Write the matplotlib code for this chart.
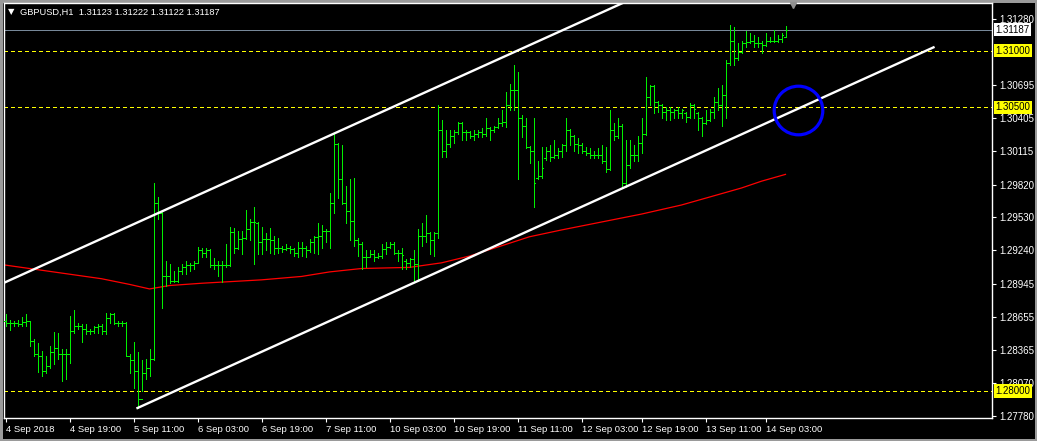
import matplotlib
matplotlib.use("Agg")
import matplotlib.pyplot as plt
from matplotlib.collections import LineCollection

plt.rcParams['font.family'] = ['Liberation Sans', 'DejaVu Sans']

# GBPUSD H1 bars, 4 Sep 2018 03:00 -> 14 Sep 2018 08:00
opens = [
    1.2862, 1.2860, 1.2860, 1.2860, 1.2859, 1.2861, 1.2862, 1.2844, 1.2833, 1.2831,
    1.2818, 1.2822, 1.2834, 1.2838, 1.2833, 1.2833, 1.2833, 1.2853, 1.2857, 1.2857,
    1.2855, 1.2853, 1.2853, 1.2856, 1.2857, 1.2853, 1.2864, 1.2868, 1.2860, 1.2860,
    1.2860, 1.2831, 1.2827, 1.2818, 1.2793, 1.2816, 1.2820, 1.2828, 1.2966, 1.2957,
    1.2901, 1.2901, 1.2897, 1.2897, 1.2906, 1.2909, 1.2911, 1.2911, 1.2913, 1.2924,
    1.2922, 1.2924, 1.2911, 1.2911, 1.2911, 1.2911, 1.2911, 1.2940, 1.2926, 1.2934,
    1.2935, 1.2943, 1.2949, 1.2948, 1.2931, 1.2934, 1.2934, 1.2933, 1.2926, 1.2926,
    1.2925, 1.2926, 1.2925, 1.2922, 1.2926, 1.2926, 1.2924, 1.2931, 1.2936, 1.2937,
    1.2941, 1.2941, 1.2966, 1.3018, 1.2987, 1.2966, 1.2959, 1.2950, 1.2933, 1.2930,
    1.2918, 1.2918, 1.2921, 1.2918, 1.2919, 1.2925, 1.2927, 1.2930, 1.2922, 1.2922,
    1.2915, 1.2913, 1.2916, 1.2912, 1.2937, 1.2937, 1.2939, 1.2933, 1.2939, 1.3030,
    1.3012, 1.3018, 1.3025, 1.3028, 1.3036, 1.3028, 1.3028, 1.3025, 1.3027, 1.3028,
    1.3027, 1.3032, 1.3030, 1.3033, 1.3036, 1.3037, 1.3052, 1.3065, 1.3065, 1.3041,
    1.3034, 1.3015, 1.3012, 1.2988, 1.2990, 1.3005, 1.3012, 1.3006, 1.3008, 1.3012,
    1.3017, 1.3030, 1.3025, 1.3018, 1.3017, 1.3012, 1.3010, 1.3008, 1.3008, 1.3008,
    1.3003, 1.2996, 1.3030, 1.3025, 1.3034, 1.2983, 1.2999, 1.3008, 1.3008, 1.3019,
    1.3027, 1.3059, 1.3069, 1.3055, 1.3052, 1.3046, 1.3048, 1.3046, 1.3048, 1.3045,
    1.3045, 1.3042, 1.3052, 1.3045, 1.3041, 1.3036, 1.3039, 1.3046, 1.3055, 1.3052,
    1.3061, 1.3089, 1.3109, 1.3094, 1.3099, 1.3107, 1.3108, 1.3109, 1.3107, 1.3107,
    1.3105, 1.3109, 1.3109, 1.3109, 1.3110, 1.31123,
]
highs = [
    1.2868, 1.2863, 1.2862, 1.2863, 1.2865, 1.2868, 1.2862, 1.2846, 1.2842, 1.2835,
    1.2831, 1.2840, 1.2852, 1.2851, 1.2837, 1.2837, 1.2866, 1.2871, 1.2860, 1.2859,
    1.2859, 1.2855, 1.2857, 1.2859, 1.2859, 1.2869, 1.2869, 1.2869, 1.2862, 1.2862,
    1.2861, 1.2833, 1.2843, 1.2834, 1.2827, 1.2828, 1.2837, 1.2983, 1.2971, 1.2958,
    1.2915, 1.2912, 1.2906, 1.2909, 1.2912, 1.2915, 1.2913, 1.2915, 1.2927, 1.2926,
    1.2926, 1.2925, 1.2917, 1.2915, 1.2915, 1.2930, 1.2945, 1.2944, 1.2941, 1.2941,
    1.2960, 1.2952, 1.2962, 1.2949, 1.2945, 1.2939, 1.2944, 1.2937, 1.2935, 1.2928,
    1.2930, 1.2928, 1.2926, 1.2931, 1.2931, 1.2928, 1.2934, 1.2937, 1.2948, 1.2946,
    1.2943, 1.2975, 1.3027, 1.3019, 1.3017, 1.2981, 1.2987, 1.2988, 1.2935, 1.2931,
    1.2924, 1.2924, 1.2924, 1.2922, 1.2930, 1.2931, 1.2931, 1.2931, 1.2924, 1.2926,
    1.2916, 1.2917, 1.2924, 1.2943, 1.2948, 1.2955, 1.2940, 1.2940, 1.3052, 1.3039,
    1.3030, 1.3030, 1.3030, 1.3037, 1.3037, 1.3030, 1.3029, 1.3030, 1.3030, 1.3032,
    1.3041, 1.3033, 1.3034, 1.3041, 1.3048, 1.3064, 1.3071, 1.3087, 1.3081, 1.3043,
    1.3041, 1.3016, 1.3041, 1.3003, 1.3015, 1.3015, 1.3017, 1.3021, 1.3014, 1.3018,
    1.3041, 1.3031, 1.3026, 1.3023, 1.3019, 1.3015, 1.3014, 1.3012, 1.3014, 1.3017,
    1.3015, 1.3048, 1.3036, 1.3041, 1.3035, 1.3021, 1.3021, 1.3017, 1.3025, 1.3041,
    1.3077, 1.3070, 1.3070, 1.3056, 1.3053, 1.3050, 1.3050, 1.3049, 1.3050, 1.3049,
    1.3046, 1.3054, 1.3053, 1.3046, 1.3042, 1.3048, 1.3049, 1.3059, 1.3067, 1.3070,
    1.3092, 1.3123, 1.3121, 1.3107, 1.3109, 1.3117, 1.3116, 1.3114, 1.3112, 1.3109,
    1.3116, 1.3112, 1.3118, 1.3114, 1.3116, 1.31222,
]
lows = [
    1.2857, 1.2854, 1.2857, 1.2857, 1.2857, 1.2857, 1.2840, 1.2831, 1.2817, 1.2813,
    1.2816, 1.2820, 1.2824, 1.2828, 1.2809, 1.2811, 1.2825, 1.2851, 1.2855, 1.2843,
    1.2850, 1.2850, 1.2851, 1.2851, 1.2850, 1.2850, 1.2860, 1.2859, 1.2857, 1.2857,
    1.2831, 1.2816, 1.2803, 1.2785, 1.2800, 1.2811, 1.2813, 1.2827, 1.2952, 1.2873,
    1.2893, 1.2895, 1.2896, 1.2896, 1.2903, 1.2903, 1.2906, 1.2908, 1.2913, 1.2918,
    1.2918, 1.2909, 1.2908, 1.2901, 1.2896, 1.2909, 1.2910, 1.2922, 1.2925, 1.2921,
    1.2934, 1.2933, 1.2912, 1.2921, 1.2921, 1.2924, 1.2922, 1.2921, 1.2922, 1.2923,
    1.2924, 1.2922, 1.2919, 1.2918, 1.2919, 1.2918, 1.2923, 1.2922, 1.2921, 1.2926,
    1.2931, 1.2926, 1.2957, 1.2970, 1.2965, 1.2948, 1.2933, 1.2928, 1.2919, 1.2908,
    1.2909, 1.2918, 1.2915, 1.2917, 1.2917, 1.2921, 1.2926, 1.2921, 1.2915, 1.2908,
    1.2908, 1.2909, 1.2897, 1.2897, 1.2928, 1.2931, 1.2921, 1.2919, 1.2935, 1.3006,
    1.3006, 1.3015, 1.3019, 1.3027, 1.3021, 1.3021, 1.3023, 1.3021, 1.3024, 1.3024,
    1.3025, 1.3021, 1.3028, 1.3032, 1.3034, 1.3033, 1.3048, 1.3048, 1.2987, 1.3024,
    1.3014, 1.3001, 1.2962, 1.2987, 1.2988, 1.3004, 1.3003, 1.3005, 1.3005, 1.3006,
    1.3012, 1.3017, 1.3012, 1.3010, 1.3010, 1.3008, 1.3005, 1.3005, 1.3005, 1.3001,
    1.2993, 1.2995, 1.3021, 1.3023, 1.2980, 1.2980, 1.2997, 1.3003, 1.3003, 1.3010,
    1.3026, 1.3052, 1.3045, 1.3046, 1.3041, 1.3039, 1.3039, 1.3041, 1.3041, 1.3041,
    1.3037, 1.3041, 1.3041, 1.3030, 1.3025, 1.3035, 1.3038, 1.3041, 1.3048, 1.3034,
    1.3041, 1.3087, 1.3087, 1.3092, 1.3098, 1.3103, 1.3107, 1.3103, 1.3103, 1.3098,
    1.3104, 1.3108, 1.3108, 1.3108, 1.3108, 1.31122,
]
closes = [
    1.2860, 1.2860, 1.2860, 1.2859, 1.2861, 1.2862, 1.2844, 1.2833, 1.2831, 1.2818,
    1.2822, 1.2834, 1.2838, 1.2833, 1.2833, 1.2833, 1.2853, 1.2857, 1.2857, 1.2855,
    1.2853, 1.2853, 1.2856, 1.2857, 1.2853, 1.2864, 1.2868, 1.2860, 1.2860, 1.2860,
    1.2831, 1.2827, 1.2818, 1.2793, 1.2816, 1.2820, 1.2828, 1.2966, 1.2957, 1.2901,
    1.2901, 1.2897, 1.2897, 1.2906, 1.2909, 1.2911, 1.2911, 1.2913, 1.2924, 1.2922,
    1.2924, 1.2911, 1.2911, 1.2911, 1.2911, 1.2911, 1.2940, 1.2926, 1.2934, 1.2935,
    1.2943, 1.2949, 1.2949, 1.2931, 1.2934, 1.2934, 1.2933, 1.2926, 1.2926, 1.2925,
    1.2926, 1.2925, 1.2922, 1.2926, 1.2926, 1.2924, 1.2931, 1.2936, 1.2937, 1.2941,
    1.2941, 1.2966, 1.3018, 1.2987, 1.2966, 1.2959, 1.2950, 1.2933, 1.2930, 1.2918,
    1.2918, 1.2921, 1.2918, 1.2919, 1.2925, 1.2927, 1.2930, 1.2922, 1.2922, 1.2920,
    1.2913, 1.2916, 1.2912, 1.2937, 1.2937, 1.2939, 1.2933, 1.2939, 1.3030, 1.3012,
    1.3018, 1.3025, 1.3028, 1.3036, 1.3028, 1.3028, 1.3025, 1.3027, 1.3028, 1.3027,
    1.3032, 1.3030, 1.3033, 1.3036, 1.3037, 1.3052, 1.3065, 1.3065, 1.3041, 1.3034,
    1.3015, 1.3012, 1.2983, 1.2990, 1.2997, 1.3012, 1.3006, 1.3008, 1.3012, 1.3017,
    1.3030, 1.3025, 1.3018, 1.3017, 1.3012, 1.3010, 1.3008, 1.3008, 1.3008, 1.3003,
    1.2996, 1.3030, 1.3025, 1.3034, 1.2983, 1.2999, 1.3008, 1.3008, 1.3019, 1.3027,
    1.3059, 1.3069, 1.3055, 1.3052, 1.3046, 1.3048, 1.3046, 1.3048, 1.3045, 1.3048,
    1.3042, 1.3052, 1.3049, 1.3041, 1.3036, 1.3039, 1.3046, 1.3055, 1.3052, 1.3061,
    1.3089, 1.3109, 1.3094, 1.3099, 1.3107, 1.3108, 1.3109, 1.3107, 1.3107, 1.3105,
    1.3109, 1.3109, 1.3109, 1.3110, 1.3114, 1.31187,
]

# moving average (red), sampled at some bars
ma_idx = [0, 6, 14, 24, 31, 36, 41, 49, 64, 74, 81, 89, 101, 109, 116, 124,
          131, 139, 149, 159, 169, 176, 184, 189, 195]
ma_val = [1.2911, 1.2908, 1.2904, 1.2899, 1.2894, 1.2890, 1.2893, 1.2895, 1.2898,
          1.2901, 1.2905, 1.2908, 1.2909, 1.2913, 1.2919, 1.2928, 1.2936, 1.2942,
          1.2949, 1.2956, 1.2964, 1.2971, 1.2979, 1.2985, 1.2991]

# channel lines (bar index, price)
upper_x = [0, 232]
upper_y = [1.2896, 1.3266]
lower_x = [33, 232]
lower_y = [1.2785, 1.3103]

levels = [1.31000, 1.30500, 1.28000]
bid = 1.31187

ytick_vals = [1.31280, 1.30695, 1.30405, 1.30115, 1.29820, 1.29530, 1.29240,
              1.28945, 1.28655, 1.28365, 1.28070, 1.27780]
xtick_idx = [0, 16, 32, 48, 64, 80, 96, 112, 128, 144, 159, 175, 190]
xtick_lbl = ["4 Sep 2018", "4 Sep 19:00", "5 Sep 11:00", "6 Sep 03:00", "6 Sep 19:00",
             "7 Sep 11:00", "10 Sep 03:00", "10 Sep 19:00", "11 Sep 11:00",
             "12 Sep 03:00", "12 Sep 19:00", "13 Sep 11:00", "14 Sep 03:00"]

circle_at = (198, 1.30476)

W, H = 1037, 441
fig = plt.figure(figsize=(W / 100, H / 100), dpi=100, facecolor="black")
fig.patch.set_edgecolor("#9a9a9a")
fig.patch.set_linewidth(2.5)
ax = fig.add_axes([4 / W, 23 / H, 988 / W, 415 / H])
ax.set_facecolor("black")
# 4 px per bar, bar centres on pixel centres
ax.set_xlim(-0.375, 246.625)
ax.set_ylim(1.27762, 1.31421)

# horizontal levels (crisp 1 px lines)
for lv in levels:
    ax.axhline(lv, color="#ffff00", lw=0.72, ls=(0, (4, 3)), antialiased=False, zorder=1)
ax.axhline(bid, color="#778899", lw=0.72, antialiased=False, zorder=1)

# MA and channel
ax.plot(ma_idx, ma_val, color="#ff0000", lw=0.9, zorder=2)
ax.plot(upper_x, upper_y, color="white", lw=1.7, zorder=4)
ax.plot(lower_x, lower_y, color="white", lw=1.7, zorder=4)

# OHLC bars: 1 px stem plus 1 px open/close ticks
segs = []
for i in range(len(closes)):
    segs.append([(i, lows[i]), (i, highs[i])])
    segs.append([(i - 0.375, opens[i]), (i, opens[i])])
    segs.append([(i, closes[i]), (i + 0.375, closes[i])])
ax.add_collection(LineCollection(segs, colors="#00f000", linewidths=0.72,
                                 antialiaseds=False, capstyle="butt", zorder=3))

# blue circle
ax.plot(*circle_at, "o", ms=35, mfc="none", mec="#0000ff", mew=2.3, zorder=5)
# chart shift marker
ax.plot(196.75, 1.31405, "v", ms=5, color="#909090", clip_on=False, zorder=5)

for s in ax.spines.values():
    s.set_color("white")
    s.set_linewidth(1)

ax.yaxis.tick_right()
ax.set_yticks(ytick_vals)
ax.set_yticklabels(["%.5f" % v for v in ytick_vals])
ax.tick_params(axis="y", colors="white", labelsize=7, length=3, width=0.8, pad=2)
ax.set_xticks(xtick_idx)
ax.set_xticklabels(xtick_lbl)
ax.tick_params(axis="x", colors="white", labelsize=6.8, length=3, width=0.8, pad=2)
for lbl in ax.get_xticklabels():
    lbl.set_ha("left")

# price boxes on the right scale
for lv in levels:
    ax.text(1.0035, lv, "%.5f" % lv, transform=ax.get_yaxis_transform(), fontsize=7,
            color="black", va="center", ha="left", zorder=6,
            bbox=dict(boxstyle="square,pad=0.18", fc="#ffff00", ec="none"))
ax.text(1.0035, bid, "%.5f" % bid, transform=ax.get_yaxis_transform(), fontsize=7,
        color="black", va="center", ha="left", zorder=6,
        bbox=dict(boxstyle="square,pad=0.18", fc="white", ec="none"))

# header
fig.text(8 / W, 1 - 12 / H, "\u25bc", fontsize=6, color="white", va="center",
         family="DejaVu Sans")
fig.text(20 / W, 1 - 12 / H, "GBPUSD,H1  1.31123 1.31222 1.31122 1.31187",
         fontsize=6.7, color="white", va="center")

fig.savefig("out.png", dpi=100, facecolor=fig.get_facecolor(),
            edgecolor=fig.patch.get_edgecolor())
